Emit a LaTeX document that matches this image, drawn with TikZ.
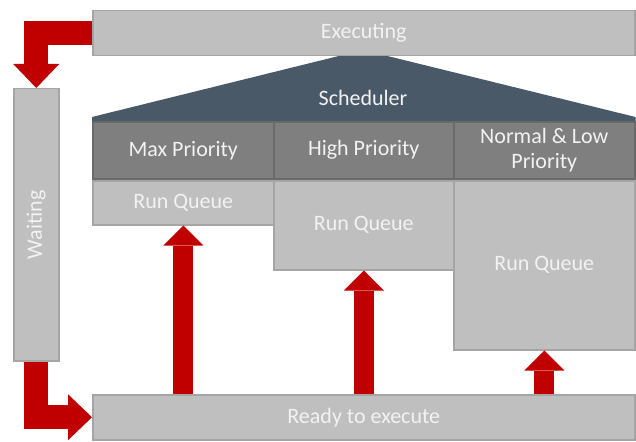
\documentclass[tikz,border=0pt]{standalone}
\usepackage{fontspec}
\setmainfont{Carlito}
\usetikzlibrary{arrows.meta}
\definecolor{boxgrey}{HTML}{BFBFBF}
\definecolor{boxedge}{HTML}{A5A5A5}
\definecolor{hdrgrey}{HTML}{7F7F7F}
\definecolor{hdredge}{HTML}{6A6A6A}
\definecolor{sched}{HTML}{4A5968}
\definecolor{arrowred}{HTML}{C00000}
\definecolor{txt}{HTML}{F2F2F2}
\tikzset{
  lbl/.style={text=txt, font=\fontsize{22}{25}\selectfont, inner sep=0pt, align=center},
  gbox/.style 2 args={draw=boxedge, fill=boxgrey, line width=1.5pt, anchor=north west,
    minimum width=#1pt, minimum height=#2pt, inner sep=0pt, text=txt,
    font=\fontsize{22}{25}\selectfont, align=center},
  hbox/.style 2 args={gbox={#1}{#2}, draw=hdredge, fill=hdrgrey},
  lArrow/.style={draw=arrowred, line width=24pt, line join=miter,
    -{Triangle[width=46pt,length=24pt,line width=0pt]}},
  uArrow/.style={draw=arrowred, line width=20pt,
    -{Triangle[width=40pt,length=20pt,line width=0pt]}}
}
\begin{document}
\begin{tikzpicture}[x=1pt,y=-1pt]
\useasboundingbox (0,0) rectangle (636,441);
% headers
\node[hbox={181}{57}] (mh) at (92,121) {Max Priority};
\node[hbox={180}{57}] (hh) at (273,121) {High Priority};
\node[hbox={181}{57}] (nh) at (453,121) {Normal \& Low\\Priority};
% scheduler roof
\coordinate (apex) at (363,50);
\fill[sched] (mh.north west) -- ([yshift=4pt]mh.north west) -- (apex)
  -- ([yshift=4pt]nh.north east) -- (nh.north east) -- cycle;
\node[lbl] (schedlbl) at (363,98) {Scheduler};
% executing
\node[gbox={542}{45}] (exec) at (92,10) {Executing};
% run queues
\node[gbox={181}{44}] (mq) at (92,180) {Run Queue};
\node[gbox={180}{89}] (hq) at (273,180) {Run Queue};
\node[gbox={181}{169}] (nq) at (453,180) {Run Queue};
% ready
\node[gbox={542}{45}] (ready) at (92,394) {Ready to execute};
% waiting
\node[gbox={45}{272}] (wait) at (13,88) {};
\node[lbl, rotate=90] (waitlbl) at (wait.center) {Waiting};
% arrows
\draw[lArrow] (exec.west) -| (wait.north);
\draw[lArrow] (wait.south) |- (ready.west);
\draw[uArrow] (ready.north -| mq.south) -- (mq.south);
\draw[uArrow] (ready.north -| hq.south) -- (hq.south);
\draw[uArrow] (ready.north -| nq.south) -- (nq.south);
\end{tikzpicture}
\end{document}
